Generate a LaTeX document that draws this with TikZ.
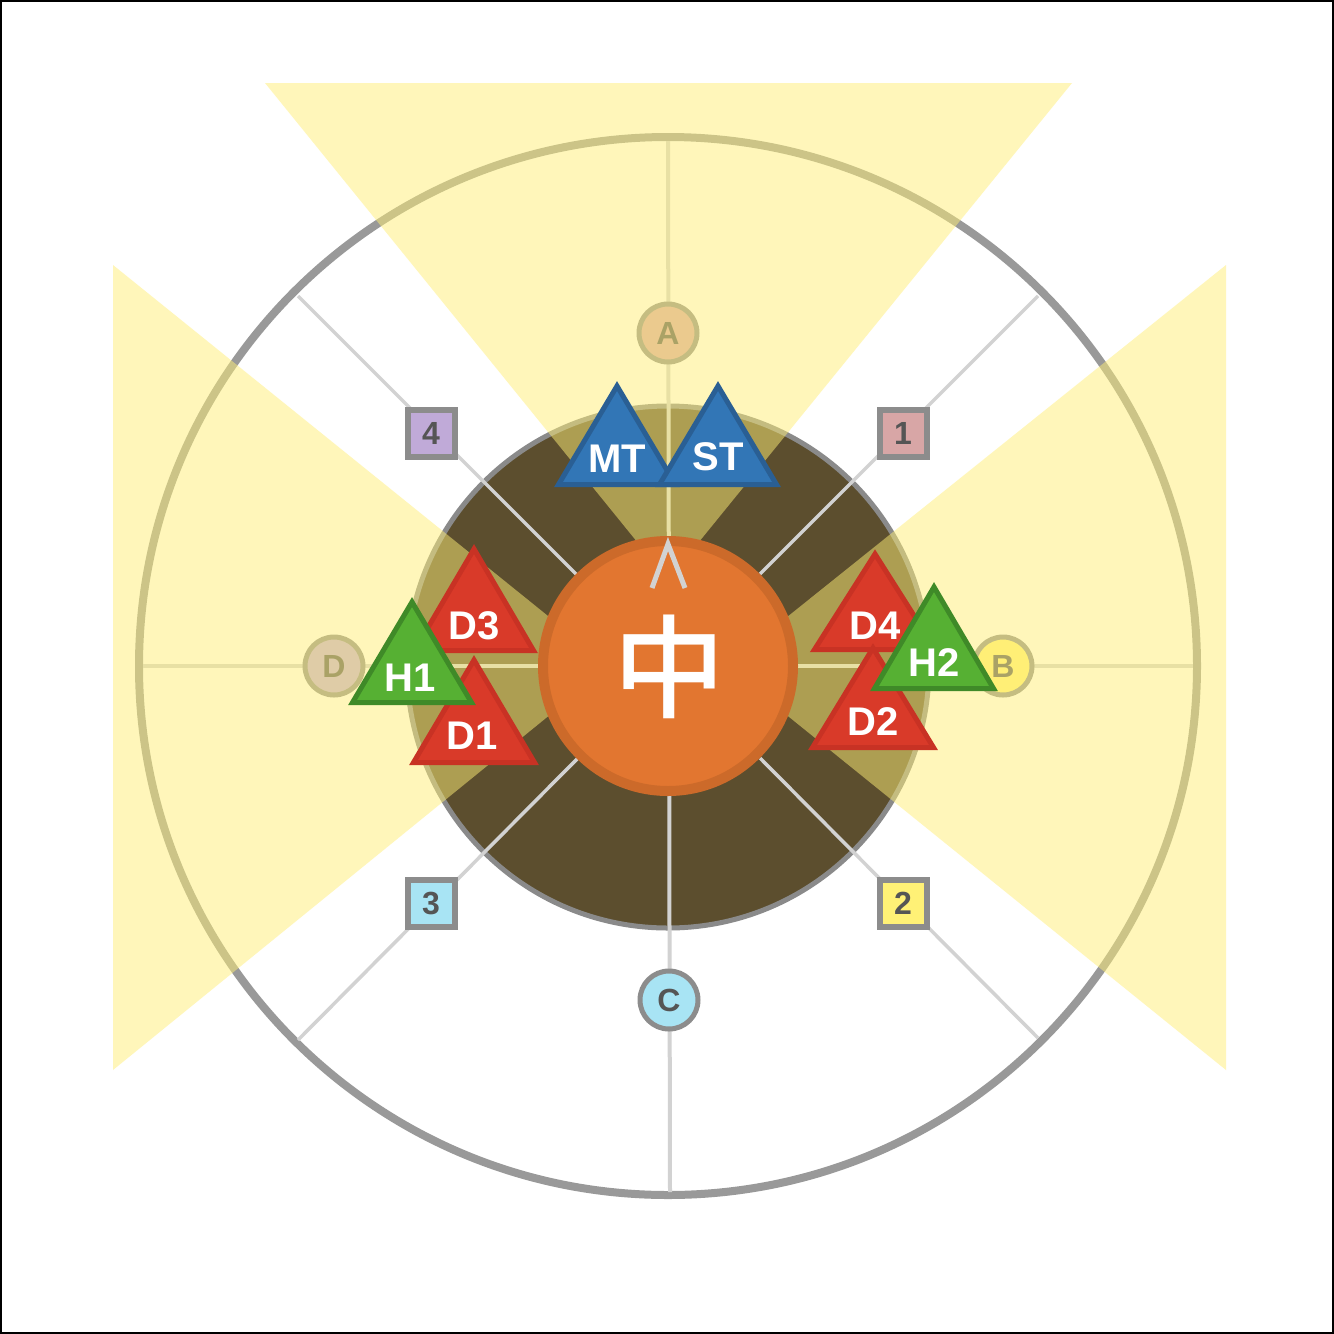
\documentclass[tikz,border=0pt]{standalone}
\usepackage{fontspec}
\setmainfont{Liberation Sans}
\newfontfamily\cjkfont{Noto Sans CJK SC}[UprightFont={* Medium}]
\definecolor{ringgray}{RGB}{153,153,153}
\definecolor{guidegray}{RGB}{210,210,210}
\definecolor{markgray}{RGB}{140,140,140}
\definecolor{textgray}{RGB}{85,85,85}
\definecolor{darkfloor}{RGB}{92,78,46}
\definecolor{floorrim}{RGB}{138,138,138}
\definecolor{aoe}{RGB}{255,239,119}
\definecolor{orangefill}{RGB}{226,118,48}
\definecolor{orangerim}{RGB}{204,106,42}
\definecolor{wmA}{RGB}{216,166,166}
\definecolor{wmB}{RGB}{255,241,118}
\definecolor{wmC}{RGB}{168,228,244}
\definecolor{wmD}{RGB}{192,170,216}
\definecolor{redfill}{RGB}{217,58,41}
\definecolor{redrim}{RGB}{200,50,36}
\definecolor{greenfill}{RGB}{86,176,51}
\definecolor{greenrim}{RGB}{63,138,40}
\definecolor{bluefill}{RGB}{50,118,182}
\definecolor{bluerim}{RGB}{42,95,148}
\tikzset{
  ring/.style={draw=ringgray, line width=8},
  guide/.style={draw=guidegray, line width=4},
  waymark/.style={circle, draw=markgray, line width=5, minimum size=58, inner sep=0pt, text=textgray, font=\fontsize{32}{32}\selectfont\bfseries},
  numbox/.style={rectangle, draw=markgray, line width=6, minimum size=47, inner sep=0pt, text=textgray, font=\fontsize{32}{32}\selectfont\bfseries},
  role/.style={line width=5, line join=miter},
  rolelabel/.style={text=white, inner sep=0pt, font=\fontsize{40}{40}\selectfont\bfseries},
}
\newcommand\roletri[6]{%
  \filldraw[role, fill=#5, draw=#6] (#1,#2+5) -- (#1+#3-4.5,#2+#4-2.5) -- (#1-#3+4.5,#2+#4-2.5) -- cycle;}
\begin{document}
\begin{tikzpicture}[x=1pt,y=-1pt]
  % background and frame
  \fill[white] (0,0) rectangle (1334,1334);
  \useasboundingbox (0,0) rectangle (1334,1334);
  \draw[black, line width=2] (1,1) rectangle (1333,1333);

  \coordinate (ctr) at (668,666);
  % outer ring
  \draw[ring] (ctr) circle[radius=529];
  % dark floor
  \filldraw[fill=darkfloor, draw=floorrim, line width=5] (668,667) circle[radius=261];

  % cardinal guides
  \coordinate (gN) at (668,141);
  \coordinate (gS) at (670,1192);
  \coordinate (gW) at (143,666);
  \coordinate (gE) at (1193,666);
  \draw[guide] (gN) -- (gS);
  \draw[guide] (gW) -- (gE);

  % waymarks
  \node[waymark, fill=wmA] (mA) at (668,333) {A};
  \node[waymark, fill=wmB] (mB) at (1003,666) {B};
  \node[waymark, fill=wmC] (mC) at (669,1000) {C};
  \node[waymark, fill=wmD] (mD) at (334,666) {D};

  % cone AoEs (semi-transparent)
  \fill[aoe, fill opacity=0.5]
    (668,580) -- (265,83) -- (1072,83) -- cycle
    (610,666) -- (113,265) -- (113,1070) -- cycle
    (726,666) -- (1226,265) -- (1226,1070) -- cycle;

  % diagonal guides
  \coordinate (d1a) at (760,574); \coordinate (d1b) at (1038,296);
  \coordinate (d2a) at (760,758); \coordinate (d2b) at (1038,1038);
  \coordinate (d3a) at (578,758); \coordinate (d3b) at (298,1040);
  \coordinate (d4a) at (578,576); \coordinate (d4b) at (298,296);
  \draw[guide, line width=3.5] (d1a) -- (d1b);
  \draw[guide, line width=3.5] (d2a) -- (d2b);
  \draw[guide, line width=3.5] (d3a) -- (d3b);
  \draw[guide, line width=3.5] (d4a) -- (d4b);

  % number markers
  \node[numbox, fill=wmA] (s1) at (903,433) {1};
  \node[numbox, fill=wmB] (s2) at (903,903) {2};
  \node[numbox, fill=wmC] (s3) at (431,903) {3};
  \node[numbox, fill=wmD] (s4) at (431,433) {4};

  % boss
  \filldraw[fill=orangefill, draw=orangerim, line width=10] (ctr) circle[radius=125];
  \coordinate (chL) at (652,588);
  \coordinate (chT) at (668,544);
  \coordinate (chR) at (685,588);
  \draw[guidegray, line width=5, line join=miter] (chL) -- (chT) -- (chR);
  \node[text=white, inner sep=0pt, font=\cjkfont\fontsize{112}{112}\selectfont] (boss) at (669,667) {中};

  % role markers
  \roletri{617}{381}{63}{106}{bluefill}{bluerim}
  \roletri{718}{381}{63}{106}{bluefill}{bluerim}
  \node[rolelabel] (lMT) at (617,459) {MT};
  \node[rolelabel] (lST) at (718,457) {ST};

  \roletri{474}{544}{64}{109}{redfill}{redrim}
  \roletri{474}{655}{65}{110}{redfill}{redrim}
  \node[rolelabel] (lD3) at (474,626) {D3};
  \node[rolelabel] (lD1) at (472,736) {D1};
  \roletri{412}{597}{64}{108}{greenfill}{greenrim}
  \node[rolelabel] (lH1) at (410,678) {H1};

  \roletri{875}{549}{65}{103}{redfill}{redrim}
  \node[rolelabel] (lD4) at (875,626) {D4};
  \roletri{873}{643}{65}{107}{redfill}{redrim}
  \node[rolelabel] (lD2) at (873,722) {D2};
  \roletri{934}{582}{64}{109}{greenfill}{greenrim}
  \node[rolelabel] (lH2) at (934,663) {H2};
\end{tikzpicture}
\end{document}
